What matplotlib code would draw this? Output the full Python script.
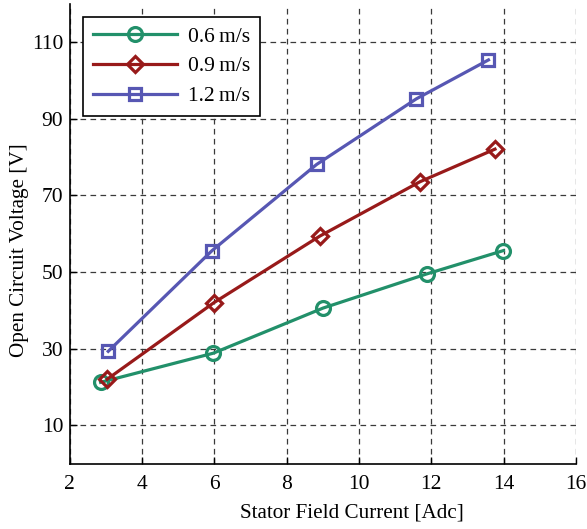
import matplotlib
matplotlib.use("Agg")
import matplotlib.pyplot as plt

plt.rcParams['font.family'] = ['Liberation Serif', 'DejaVu Serif']

labels = ["0.6\u2009m/s", "0.9\u2009m/s", "1.2\u2009m/s"]
x_06 = [2.86, 5.97, 9.01, 11.87, 13.99]
y_06 = [21.2, 28.8, 40.6, 49.5, 55.6]
x_09 = [3.04, 5.99, 8.92, 11.69, 13.76]
y_09 = [22.0, 42.0, 59.4, 73.6, 82.1]
x_12 = [3.07, 5.94, 8.83, 11.58, 13.58]
y_12 = [29.3, 55.6, 78.1, 95.2, 105.4]
xticks = [2, 4, 6, 8, 10, 12, 14, 16]
yticks = [10, 30, 50, 70, 90, 110]

fig = plt.figure(figsize=(5.87, 5.29), dpi=100)
ax = fig.add_axes([0.1184, 0.1238, 0.8629, 0.8686])

green = '#22906a'
red = '#981a1a'
blue = '#5757b3'

ax.plot(x_06, y_06, '-o', color=green, lw=2.3, ms=10, mfc='none', mew=2.3, label=labels[0])
ax.plot(x_09, y_09, '-D', color=red, lw=2.3, ms=8.5, mfc='none', mew=2.3, label=labels[1])
ax.plot(x_12, y_12, '-s', color=blue, lw=2.3, ms=9, mfc='none', mew=2.3, label=labels[2])

ax.set_xlim(2, 16)
ax.set_ylim(0, 120)
ax.set_xticks(xticks)
ax.set_yticks(yticks)
ax.grid(True, linestyle=(0, (4.5, 3.5)), color='#3a3a3a', lw=0.9)
ax.tick_params(direction='in', length=5, width=1, labelsize=15.5)
ax.tick_params(axis='x', pad=8)
ax.tick_params(axis='y', pad=4.5)
for s in ['top', 'right']:
    ax.spines[s].set_visible(False)
for s in ['left', 'bottom']:
    ax.spines[s].set_linewidth(1.2)

ax.set_xlabel('Stator Field Current [Adc]', fontsize=15.2)
ax.set_ylabel('Open Circuit Voltage [V]', fontsize=15.2)
ax.xaxis.set_label_coords(0.557, -0.088)
ax.yaxis.set_label_coords(-0.08, 0.465)

leg = ax.legend(loc='upper left', bbox_to_anchor=(0.027, 0.972), borderaxespad=0,
                fontsize=15.5, handlelength=3.9, handletextpad=0.5,
                borderpad=0.45, labelspacing=0.45,
                fancybox=False, edgecolor='black', framealpha=1)
leg.get_frame().set_linewidth(1.2)

fig.savefig('out.png', dpi=100)
